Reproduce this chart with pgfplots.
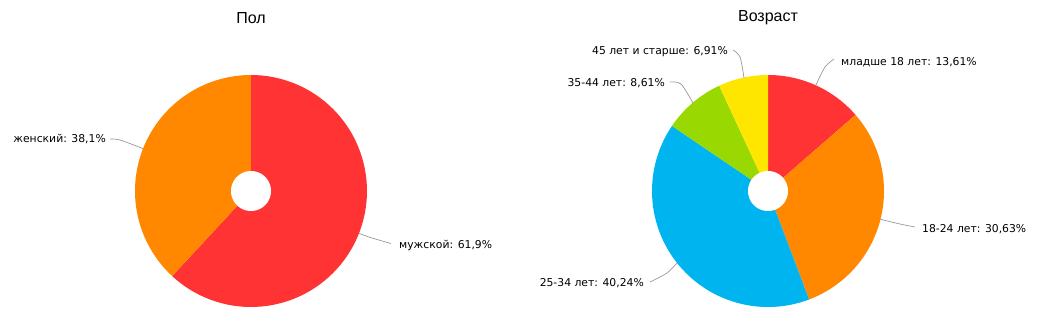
\documentclass[border=0pt]{standalone}
\usepackage{pgfplots}
\pgfplotsset{compat=1.18}
\usepackage{fontspec}
\setmainfont{DejaVu Sans}
\newfontfamily\titlefont{Liberation Sans}
\definecolor{pieRed}{HTML}{FF3333}
\definecolor{pieOrange}{HTML}{FF8800}
\definecolor{pieBlue}{HTML}{00B5EF}
\definecolor{pieGreen}{HTML}{99D800}
\definecolor{pieYellow}{HTML}{FFE600}
\definecolor{leader}{HTML}{999999}
\tikzset{lbl/.style={font=\fontsize{10.8}{13}\selectfont, text=black, inner sep=0pt}}
% slice: center x, center y, start percent, end percent, colour (clockwise from top)
\newcommand{\slice}[5]{%
  \addplot[fill=#5, draw=none, domain=0:1, samples=80, variable=\t]
    ({#1+116*cos(90-3.6*(#3+(#4-#3)*\t))},{#2+116*sin(90-3.6*(#3+(#4-#3)*\t))})
    -- (axis cs:#1,#2) -- cycle;}
\newcommand{\hole}[2]{%
  \addplot[fill=white, draw=none, domain=0:360, samples=72]
    ({#1+20*cos(x)},{#2+20*sin(x)}) -- cycle;}
\begin{document}
\begin{tikzpicture}
\begin{axis}[
  width=1041pt, height=318pt, scale only axis,
  xmin=0, xmax=1041, ymin=0, ymax=318,
  hide axis, clip=false,
]
\path (axis cs:0,0) rectangle (axis cs:1041,318);
% ---- Пол ----
\slice{251}{127}{0}{61.9}{pieRed}
\slice{251}{127}{61.9}{100}{pieOrange}
\hole{251}{127}
% ---- Возраст ----
\slice{768}{127}{0}{13.61}{pieRed}
\slice{768}{127}{13.61}{44.24}{pieOrange}
\slice{768}{127}{44.24}{84.48}{pieBlue}
\slice{768}{127}{84.48}{93.09}{pieGreen}
\slice{768}{127}{93.09}{100}{pieYellow}
\hole{768}{127}
% ---- leader lines ----
\addplot[leader, line width=0.7pt, smooth] coordinates {(110,179) (120,178) (143,169.4)};
\addplot[leader, line width=0.7pt, smooth] coordinates {(359,84.6) (372,80) (391,74.5)};
\addplot[leader, line width=0.7pt, smooth] coordinates {(816,233) (825,251) (834,259)};
\addplot[leader, line width=0.7pt, smooth] coordinates {(880.5,98.7) (900,94) (915,91)};
\addplot[leader, line width=0.7pt, smooth] coordinates {(677,55) (667,45) (650,36)};
\addplot[leader, line width=0.7pt, smooth] coordinates {(670,236) (681,234) (693,215)};
\addplot[leader, line width=0.7pt, smooth] coordinates {(733,268) (740,261) (744,240)};
% ---- labels ----
\node[lbl, anchor=east] at (axis cs:106,179) {женский: 38,1\%};
\node[lbl, anchor=west] at (axis cs:399,72) {мужской: 61,9\%};
\node[lbl, anchor=west] at (axis cs:841,256) {младше 18 лет: 13,61\%};
\node[lbl, anchor=west] at (axis cs:922,89) {18-24 лет: 30,63\%};
\node[lbl, anchor=east] at (axis cs:644,35) {25-34 лет: 40,24\%};
\node[lbl, anchor=east] at (axis cs:665,235) {35-44 лет: 8,61\%};
\node[lbl, anchor=east] at (axis cs:728,266) {45 лет и старше: 6,91\%};
% ---- titles ----
\node[font=\titlefont\fontsize{16}{19}\selectfont] at (axis cs:251,300) {Пол};
\node[font=\titlefont\fontsize{16}{19}\selectfont] at (axis cs:768,300) {Возраст};
\end{axis}
\end{tikzpicture}
\end{document}
